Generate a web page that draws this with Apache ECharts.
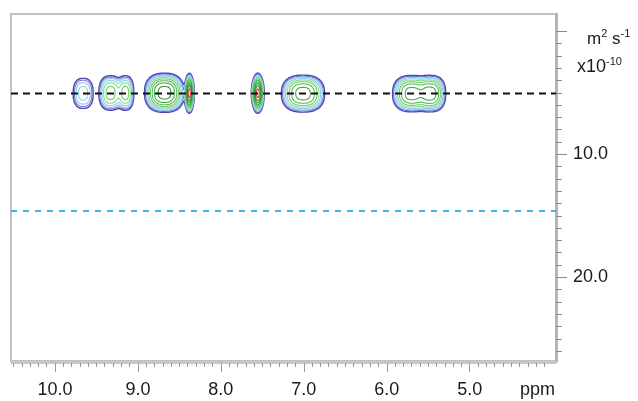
<!DOCTYPE html>
<html>
<head>
<meta charset="utf-8">
<script src="https://cdn.jsdelivr.net/npm/echarts@6/dist/echarts.min.js"></script>
<style>
html,body{margin:0;padding:0;background:#fff;}
#chart{width:638px;height:401px;}
</style>
</head>
<body>
<div id="chart"></div>
<script>
// ---- data ----
// peak components (chemical shift in ppm, diffusion coefficient in 1e-10 m2/s)
var peakShift      = [9.66, 9.33, 9.15, 8.68, 8.38, 7.555, 7.01, 5.70, 5.47];
var peakD          = [5.05, 5.02, 5.02, 5.00, 5.04, 5.04, 5.07, 5.07, 5.07];
var peakHalfWidth  = [0.12, 0.14, 0.10, 0.24, 0.06, 0.078, 0.26, 0.23, 0.18];
var peakHalfHeight = [1.22, 1.40, 1.40, 1.59, 1.63, 1.63, 1.50, 1.48, 1.48];
var peakLevels     = [3, 5, 5, 8, 10, 10, 7, 7, 7];
// reference diffusion lines
var lineD = [5.07, 14.6];
// axes
var xRange = [3.96, 10.53];
var yRange = [-1.4, 26.8];
var xMajorTicks = [5, 6, 7, 8, 9, 10];
var yMajorTicks = [0, 10, 20];
var yLabelTicks = [10, 20];

var levelColors = ['#4a48a8', '#7272da', '#9cc2f0', '#84dae6', '#8ed88e', '#74c874',
                   '#5cba5c', '#46aa4a', '#2f9a3e', '#1f8a30', '#e03c3c'];

var xMinorTicks = [];
for (var t = 41; t <= 105; t++) xMinorTicks.push(t / 10);
var yMinorTicks = [];
for (var u = 0; u <= 26; u++) yMinorTicks.push(u);

var FONT = 'Liberation Sans, Arial, sans-serif';

function renderContours(params, api) {
  if (params.dataIndex !== 0) return;
  var g = 1.6, base = 1;
  var comps = peakShift.map(function (s, i) {
    var n = peakLevels[i];
    var L = (n + 0.5) * Math.log(g);
    var narrow = peakHalfWidth[i] < 0.1 && peakLevels[i] > 8;
    var px = narrow ? 2 : 2.5;
    var py = narrow ? 2 : 2.5;
    return {
      x: s, y: peakD[i], A: base * Math.exp(L),
      wx: peakHalfWidth[i] / Math.pow(L, 1 / px),
      wy: peakHalfHeight[i] / Math.pow(L, 1 / py),
      px: px, py: py
    };
  });
  var x0 = 4.6, x1 = 10.2, y0 = 2.6, y1 = 7.6;
  var nx = 560, ny = 62;
  var W = nx + 1;
  var F = new Float64Array((nx + 1) * (ny + 1));
  var PX = new Float64Array((nx + 1) * (ny + 1));
  var PY = new Float64Array((nx + 1) * (ny + 1));
  for (var j = 0; j <= ny; j++) {
    var y = y0 + (y1 - y0) * j / ny;
    for (var i = 0; i <= nx; i++) {
      var x = x0 + (x1 - x0) * i / nx;
      var v = 0;
      for (var c = 0; c < comps.length; c++) {
        var cp = comps[c];
        var ax = Math.abs((x - cp.x) / cp.wx), ay = Math.abs((y - cp.y) / cp.wy);
        var e = Math.pow(ax, cp.px) + Math.pow(ay, cp.py);
        if (e < 40) v += cp.A * Math.exp(-e);
      }
      var k = j * W + i;
      F[k] = v;
      var p = api.coord([x, y]);
      PX[k] = p[0]; PY[k] = p[1];
    }
  }
  var table = {1:[[3,0]],2:[[0,1]],3:[[3,1]],4:[[1,2]],5:[[3,0],[1,2]],6:[[0,2]],7:[[3,2]],
               8:[[2,3]],9:[[0,2]],10:[[0,1],[2,3]],11:[[1,2]],12:[[1,3]],13:[[0,1]],14:[[3,0]]};
  var children = [];
  for (var lv = 0; lv < levelColors.length; lv++) {
    var th = base * Math.pow(g, lv);
    var d = [];
    for (var jj = 0; jj < ny; jj++) {
      for (var ii = 0; ii < nx; ii++) {
        var k0 = jj * W + ii, k1 = k0 + 1, k2 = k0 + W + 1, k3 = k0 + W;
        var ks = [k0, k1, k2, k3];
        var idx = (F[k0] > th ? 1 : 0) | (F[k1] > th ? 2 : 0) | (F[k2] > th ? 4 : 0) | (F[k3] > th ? 8 : 0);
        if (idx === 0 || idx === 15) continue;
        var segs = table[idx];
        for (var s = 0; s < segs.length; s++) {
          var pts = segs[s].map(function (edge) {
            var a = ks[edge], b = ks[(edge + 1) % 4];
            var tt = (th - F[a]) / (F[b] - F[a]);
            return [PX[a] + (PX[b] - PX[a]) * tt, PY[a] + (PY[b] - PY[a]) * tt];
          });
          d.push('M' + pts[0][0].toFixed(2) + ' ' + pts[0][1].toFixed(2) +
                 'L' + pts[1][0].toFixed(2) + ' ' + pts[1][1].toFixed(2));
        }
      }
    }
    if (d.length) {
      children.push({
        type: 'path',
        shape: { pathData: d.join('') },
        style: { stroke: levelColors[lv], lineWidth: lv === 0 ? 1.4 : 1.1, fill: null, lineCap: 'round' }
      });
    }
  }
  return { type: 'group', children: children };
}

var chart = echarts.init(document.getElementById('chart'), null, { renderer: 'canvas' });
var grayAxis = '#b8b8b8';
var gridBox = { left: 11, right: 82, top: 14, bottom: 40 };
var option = {
  animation: false,
  backgroundColor: '#ffffff',
  grid: [
    Object.assign({ show: true, borderColor: '#c2c2c2', borderWidth: 2, backgroundColor: 'transparent' }, gridBox),
    Object.assign({ show: false }, gridBox)
  ],
  xAxis: [{
    gridIndex: 0, type: 'value', inverse: true, min: xRange[0], max: xRange[1], position: 'bottom', offset: 2,
    axisLine: { show: true, onZero: false, lineStyle: { color: grayAxis, width: 1.5 } },
    axisTick: { show: true, length: 9, customValues: xMajorTicks, lineStyle: { color: '#9a9a9a', width: 1 } },
    axisLabel: { show: true, margin: 18, customValues: xMajorTicks, color: '#1a1a1a', fontSize: 18, fontFamily: FONT,
      formatter: function (v) { return v.toFixed(1); } },
    splitLine: { show: false }
  }, {
    gridIndex: 1, type: 'value', inverse: true, min: xRange[0], max: xRange[1], position: 'bottom', offset: 2,
    axisLine: { show: false, onZero: false },
    axisTick: { show: true, length: 4, customValues: xMinorTicks, lineStyle: { color: '#9a9a9a', width: 1 } },
    axisLabel: { show: false },
    splitLine: { show: false }
  }],
  yAxis: [{
    gridIndex: 0, type: 'value', inverse: true, min: yRange[0], max: yRange[1], position: 'right',
    axisLine: { show: true, onZero: false, lineStyle: { color: '#b4b4b4', width: 3 } },
    axisTick: { show: true, length: 11, customValues: yMajorTicks, lineStyle: { color: '#8a8a8a', width: 1 } },
    axisLabel: { show: true, margin: 17, customValues: yLabelTicks, color: '#1a1a1a', fontSize: 18, fontFamily: FONT,
      formatter: function (v) { return v.toFixed(1); } },
    splitLine: { show: false }
  }, {
    gridIndex: 1, type: 'value', inverse: true, min: yRange[0], max: yRange[1], position: 'right',
    axisLine: { show: false, onZero: false },
    axisTick: { show: true, length: 6, customValues: yMinorTicks, lineStyle: { color: '#8a8a8a', width: 1 } },
    axisLabel: { show: false },
    splitLine: { show: false }
  }],
  graphic: [
    { type: 'text', left: 587, top: 28, style: { text: '{a|m}{s|2}{a| s}{s|-1}', fontFamily: FONT, fill: '#1a1a1a',
      rich: { a: { fontSize: 17, fontFamily: FONT, verticalAlign: 'bottom', lineHeight: 20 },
              s: { fontSize: 11, fontFamily: FONT, verticalAlign: 'top', lineHeight: 20 } } } },
    { type: 'text', left: 577, top: 56, style: { text: '{a|x10}{s|-10}', fontFamily: FONT, fill: '#1a1a1a',
      rich: { a: { fontSize: 18, fontFamily: FONT, verticalAlign: 'bottom', lineHeight: 20 },
              s: { fontSize: 11, fontFamily: FONT, verticalAlign: 'top', lineHeight: 20 } } } },
    { type: 'text', left: 520, top: 381, style: { text: 'ppm', fontSize: 18, fontFamily: FONT, fill: '#1a1a1a' } }
  ],
  series: [{
    type: 'custom', xAxisIndex: 0, yAxisIndex: 0, renderItem: renderContours,
    data: [[7, 5]], silent: true, clip: true, z: 2
  }, {
    type: 'line', xAxisIndex: 0, yAxisIndex: 0, symbol: 'none', silent: true, z: 3,
    data: [[xRange[1], lineD[0]], [xRange[0], lineD[0]]],
    lineStyle: { color: '#111111', width: 2, type: [7, 5] }
  }, {
    type: 'line', xAxisIndex: 0, yAxisIndex: 0, symbol: 'none', silent: true, z: 3,
    data: [[xRange[1], lineD[1]], [xRange[0], lineD[1]]],
    lineStyle: { color: '#3ab8ea', width: 2, type: [6, 6] }
  }]
};
chart.setOption(option);
</script>
</body>
</html>
